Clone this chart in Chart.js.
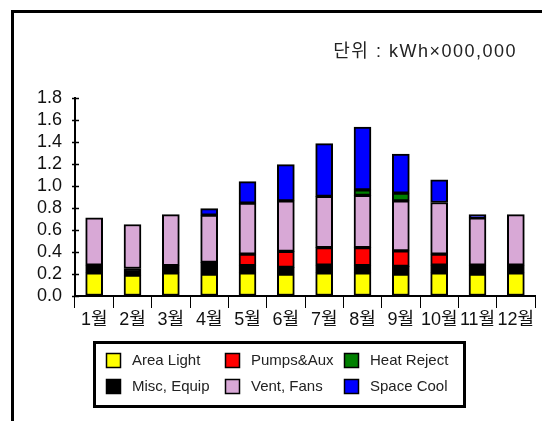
<!DOCTYPE html>
<html>
<head>
<meta charset="utf-8">
<script src="https://cdn.jsdelivr.net/npm/chart.js@4"></script>
<style>
  html, body { margin: 0; padding: 0; background: #fff; }
  #wrap { position: relative; width: 542px; height: 421px; overflow: hidden; }
  #frame { position: absolute; left: 11px; top: 10px; right: -10px; bottom: -10px;
           border-left: 3px solid #000; border-top: 3px solid #000; }
  canvas { position: absolute; left: 0; top: 0; }
</style>
</head>
<body>
<div id="wrap">
  <div id="frame"></div>
  <canvas id="c" width="542" height="421"></canvas>
</div>
<script>
// Monthly energy use by end use (unit: kWh x 000,000)
const months = ['1월','2월','3월','4월','5월','6월','7월','8월','9월','10월','11월','12월'];
const areaLight   = [0.21, 0.19, 0.21, 0.20, 0.21, 0.20, 0.21, 0.21, 0.20, 0.21, 0.20, 0.21];
const miscEquip   = [0.07, 0.06, 0.065, 0.105, 0.065, 0.06, 0.07, 0.065, 0.07, 0.07, 0.08, 0.07];
const pumpsAux    = [null, null, null, null, 0.105, 0.145, 0.16, 0.165, 0.14, 0.10, null, null];
const ventFans    = [0.43, 0.40, 0.465, 0.43, 0.465, 0.46, 0.465, 0.475, 0.455, 0.47, 0.43, 0.46];
const heatReject  = [null, null, null, null, null, null, null, 0.05, 0.07, null, null, null];
const spaceCool   = [null, null, null, 0.06, 0.195, 0.33, 0.48, 0.57, 0.355, 0.205, 0.03, null];
const yTicks      = [0.0, 0.2, 0.4, 0.6, 0.8, 1.0, 1.2, 1.4, 1.6, 1.8];
const unitText    = '단위 : kWh×000,000';
// legend is laid out in two rows of three, column by column
const legendGrid  = [[0, 2, 4], [1, 3, 5]];

const FONT = '"Liberation Sans", "Noto Sans CJK KR", sans-serif';

function seg(label, data, color) {
  return {
    label, data,
    backgroundColor: color,
    borderColor: '#000',
    borderWidth: 2,
    borderSkipped: false,
    barThickness: 17
  };
}

const extras = {
  id: 'extras',
  afterDraw(chart) {
    const ctx = chart.ctx;
    ctx.save();
    // unit caption
    ctx.fillStyle = '#222';
    ctx.font = '18px ' + FONT;
    ctx.letterSpacing = '1.5px';
    ctx.textAlign = 'right';
    ctx.textBaseline = 'middle';
    ctx.fillText(unitText, 517, 52);
    ctx.letterSpacing = '0px';

    // legend box
    ctx.textAlign = 'left';
    ctx.lineWidth = 3;
    ctx.strokeStyle = '#000';
    ctx.strokeRect(94.5, 342.5, 370, 64);
    const colX = [106, 225, 344];
    const rowY = [360, 386];
    ctx.font = '15px ' + FONT;
    legendGrid.forEach((row, r) => {
      row.forEach((di, c) => {
        const ds = chart.data.datasets[di];
        ctx.fillStyle = ds.backgroundColor;
        ctx.fillRect(colX[c], rowY[r] - 7, 15, 15);
        ctx.lineWidth = 1.5;
        ctx.strokeStyle = '#000';
        ctx.strokeRect(colX[c] + 0.5, rowY[r] - 6.5, 14, 14);
        ctx.fillStyle = '#222';
        ctx.fillText(ds.label, colX[c] + 26, rowY[r] + 1);
      });
    });

    // y ticks cross the axis line
    const y = chart.scales.y;
    ctx.strokeStyle = '#000';
    ctx.lineWidth = 1.5;
    yTicks.forEach(v => {
      const py = Math.round(y.getPixelForValue(v)) + 0.5;
      ctx.beginPath();
      ctx.moveTo(chart.chartArea.left - 3, py);
      ctx.lineTo(chart.chartArea.left + 4, py);
      ctx.stroke();
    });
    ctx.restore();
  }
};

new Chart(document.getElementById('c'), {
  type: 'bar',
  data: {
    labels: months,
    datasets: [
      seg('Area Light', areaLight, '#FFFF00'),
      seg('Misc, Equip', miscEquip, '#000000'),
      seg('Pumps&Aux', pumpsAux, '#FF0000'),
      seg('Vent, Fans', ventFans, '#D8A8D6'),
      seg('Heat Reject', heatReject, '#008000'),
      seg('Space Cool', spaceCool, '#0000FF')
    ]
  },
  options: {
    responsive: false,
    animation: false,
    layout: { padding: { left: 0, right: 7, top: 98, bottom: 93 } },
    plugins: {
      legend: { display: false },
      tooltip: { enabled: false }
    },
    scales: {
      x: {
        stacked: true,
        grid: { drawOnChartArea: false, drawTicks: true, tickLength: 12, color: '#000', lineWidth: 1, offset: true },
        border: { display: true, color: '#000', width: 2 },
        ticks: { color: '#111', font: { family: FONT, size: 18 }, padding: 1, maxRotation: 0, autoSkip: false },
        afterFit(s) { s.height = 32; }
      },
      y: {
        stacked: true,
        min: 0, max: 1.8,
        afterBuildTicks(s) { s.ticks = yTicks.map(v => ({ value: v })); },
        grid: { drawOnChartArea: false, drawTicks: false },
        border: { display: true, color: '#000', width: 2 },
        ticks: { color: '#111', font: { family: FONT, size: 18 }, padding: 13, autoSkip: false,
                 callback: v => Number(v).toFixed(1) },
        afterFit(s) { s.width = 75; }
      }
    }
  },
  plugins: [extras]
});
</script>
</body>
</html>
